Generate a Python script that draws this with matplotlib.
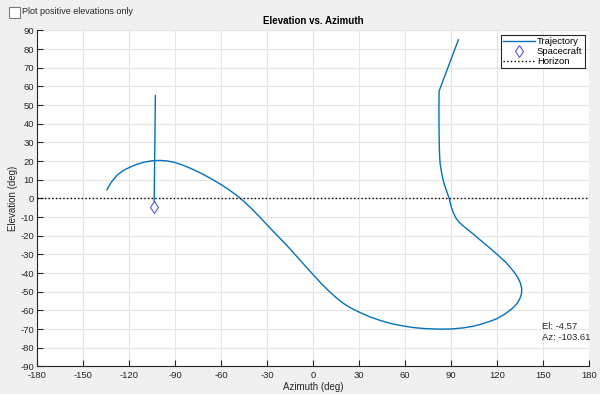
#!/usr/bin/env python3
import matplotlib
matplotlib.use("Agg")
import matplotlib.pyplot as plt
from matplotlib.patches import Rectangle

OUTPUT_PNG = "out.png"

# trajectory (deg); NaN splits the two pieces
traj_az = [-134.5, -131.5, -128.0, -124.0, -119.3, -115.0, -110.0, -105.0, -100.0,
           -95.0, -90.0, -85.0, -80.0, -75.0, -70.0, -65.0, -60.0, -55.0, -50.0,
           -45.0, -40.0, -35.0, -30.0, -25.0, -20.0, -15.0, -10.0, -5.0, 0.0,
           5.0, 10.0, 15.5, 20.0, 25.0, 30.7, 37.0, 43.8, 50.0, 56.8, 65.0, 73.0,
           82.9, 90.0, 98.1, 104.0, 109.0, 115.0, 119.9, 125.0, 130.0, 133.2,
           135.1, 136.0, 136.1, 135.2, 133.5, 131.3, 128.5, 125.5, 119.9, 114.5,
           109.0, 105.0, 101.4, 98.4, 95.6, 93.2, 91.4, 90.0, 88.8, 87.2, 85.6,
           84.5, 83.6, 82.9, 82.5, 82.3, 82.2, 82.1, 82.2, 94.8,
           float("nan"), -102.8, -103.61]
traj_el = [4.7, 8.8, 12.3, 14.9, 16.8, 18.3, 19.5, 20.2, 20.4,
           20.1, 19.3, 17.9, 16.2, 14.3, 12.2, 9.9, 7.5, 4.8, 1.8,
           -1.6, -5.5, -9.7, -14.1, -18.4, -22.6, -27.0, -31.6, -36.2, -40.7,
           -45.2, -49.3, -53.4, -56.3, -58.8, -61.1, -63.4, -65.3, -66.8, -68.0, -69.1, -69.7,
           -70.0, -69.9, -69.3, -68.5, -67.5, -65.9, -64.4, -62.0, -58.9, -56.1,
           -53.3, -50.8, -48.2, -45.2, -42.3, -39.6, -36.8, -34.0, -29.8, -26.0,
           -22.2, -19.4, -17.0, -15.0, -13.0, -10.5, -7.4, -4.0, 0.0, 3.8, 7.5,
           11.2, 15.0, 18.6, 24.0, 30.0, 36.4, 47.0, 57.5, 85.0,
           float("nan"), 55.2, -2.4]

sc_az = -103.61
sc_el = -4.57

horizon_az = [-180, 180]
horizon_el = [0, 0]

x_ticks = list(range(-180, 181, 30))
y_ticks = list(range(-90, 91, 10))


def main():
    plt.rcParams["font.family"] = ["Liberation Sans", "DejaVu Sans"]
    plt.rcParams["axes.unicode_minus"] = False
    fig = plt.figure(figsize=(6.0, 3.94), dpi=100, facecolor="#f0f0f0")
    ax = fig.add_axes([0.0617, 0.0698, 0.92, 0.8528])

    ax.plot(traj_az, traj_el, color="#0072bd", lw=1.0, label="Trajectory")
    ax.plot([sc_az], [sc_el], "d", ms=6, mfc="white", mec="#5555ff", mew=0.8,
            label="Spacecraft", linestyle="none")
    ax.plot(horizon_az, horizon_el, color="black", ls=":", lw=1.0, label="Horizon")

    ax.set_xlim(-180, 180)
    ax.set_ylim(-90, 90)
    ax.set_xticks(x_ticks)
    ax.set_yticks(y_ticks)
    ax.tick_params(direction="in", length=4, width=0.8, labelsize=6.8,
                   colors="#262626", pad=2)
    ax.tick_params(axis="x", pad=3.5)
    ax.grid(True, color="#e4e4e4", lw=0.8)
    ax.set_axisbelow(True)
    for s in ["top", "right"]:
        ax.spines[s].set_visible(False)
    for s in ["left", "bottom"]:
        ax.spines[s].set_color("#262626")
        ax.spines[s].set_linewidth(0.8)

    ax.set_title("Elevation vs. Azimuth", fontsize=7, fontweight="bold",
                 color="black", pad=5)
    ax.set_xlabel("Azimuth (deg)", fontsize=7, color="#262626", labelpad=1)
    ax.set_ylabel("Elevation (deg)", fontsize=7, color="#262626", labelpad=2)

    leg = ax.legend(loc="upper right", fontsize=6.8, fancybox=False,
                    edgecolor="#262626", framealpha=1, borderpad=0.25,
                    labelspacing=0.1, handlelength=3.4, handletextpad=0.15,
                    borderaxespad=0.45)
    leg.get_frame().set_linewidth(0.8)

    ax.text(0.915, 0.103, f"El: {sc_el:.2f}\nAz: {sc_az:.2f}",
            transform=ax.transAxes, fontsize=6.8, va="center", ha="left",
            color="#262626", linespacing=1.2)

    # checkbox of the original app
    fig.patches.append(Rectangle((9 / 600, 1 - 17.5 / 394), 10.5 / 600, 10.5 / 394,
                                 transform=fig.transFigure, facecolor="white",
                                 edgecolor="#7a7a7a", lw=0.8))
    fig.text(22.5 / 600, 1 - 12 / 394, "Plot positive elevations only",
             fontsize=6.5, va="center", ha="left", color="#262626")

    fig.savefig(OUTPUT_PNG, dpi=100, facecolor=fig.get_facecolor())
    print(f"Plot saved to {OUTPUT_PNG}")


if __name__ == "__main__":
    main()
